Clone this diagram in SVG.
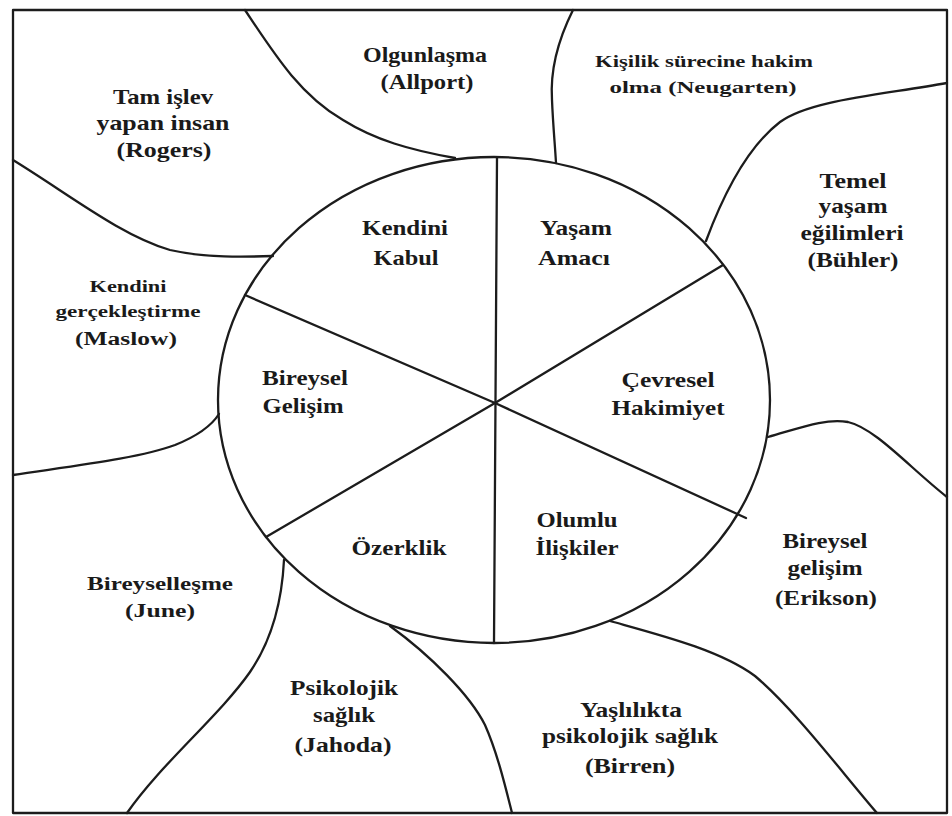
<svg xmlns="http://www.w3.org/2000/svg" width="952" height="816" viewBox="0 0 952 816">
<style>
.ln{fill:none;stroke:#1c1c1c;stroke-width:2.3;stroke-linecap:round;stroke-linejoin:round}
text{font-family:"Liberation Serif","Times New Roman",serif;font-weight:bold;fill:#1a1a1a;text-anchor:middle}
.m{font-size:21px}
.s{font-size:16px}
.s2{font-size:18px}
</style>
<rect width="952" height="816" fill="#ffffff"/>
<g id="frame"><rect class="ln" x="13" y="10" width="934" height="803"/></g>
<g id="connectors">
<ellipse class="ln" cx="494" cy="400" rx="276" ry="243"/>
<path class="ln" d="M497,158 L494,643"/>
<path class="ln" d="M495,403 L723,265"/>
<path class="ln" d="M495,403 L266,537"/>
<path class="ln" d="M495,403 L245,295"/>
<path class="ln" d="M495,403 L746,518"/>
<path class="ln" d="M245,10 C275,55 300,95 343,120 C375,140 410,150 455,158"/>
<path class="ln" d="M13,160 C70,195 120,235 170,250 C205,258 245,257 273,256"/>
<path class="ln" d="M13,475 C80,465 140,458 175,445 C200,435 212,425 219,414"/>
<path class="ln" d="M573,10 C558,40 550,70 552,100 C553,125 555,145 556,163"/>
<path class="ln" d="M947,83 C880,95 810,100 780,122 C750,145 725,190 706,241"/>
<path class="ln" d="M768,437 C800,428 825,418 848,422 C875,428 910,468 947,497"/>
<path class="ln" d="M610,621 C660,635 720,650 755,676 C795,710 840,770 877,813"/>
<path class="ln" d="M390,626 C430,655 470,695 485,725 C497,752 505,785 512,813"/>
<path class="ln" d="M284,560 C282,600 272,640 250,672 C220,715 160,765 127,813"/>
</g>
<g id="n-kendini-kabul"><text class="m" x="405" y="235" textLength="86" lengthAdjust="spacingAndGlyphs">Kendini</text><text class="m" x="406" y="265" textLength="65" lengthAdjust="spacingAndGlyphs">Kabul</text></g>
<g id="n-yasam-amaci"><text class="m" x="576" y="235" textLength="72" lengthAdjust="spacingAndGlyphs">Yaşam</text><text class="m" x="574" y="265" textLength="72" lengthAdjust="spacingAndGlyphs">Amacı</text></g>
<g id="n-bireysel-gelisim"><text class="m" x="305" y="385" textLength="86" lengthAdjust="spacingAndGlyphs">Bireysel</text><text class="m" x="303" y="413" textLength="81" lengthAdjust="spacingAndGlyphs">Gelişim</text></g>
<g id="n-cevresel"><text class="m" x="668" y="387" textLength="93" lengthAdjust="spacingAndGlyphs">Çevresel</text><text class="m" x="668" y="415" textLength="113" lengthAdjust="spacingAndGlyphs">Hakimiyet</text></g>
<g id="n-olumlu"><text class="m" x="577" y="527" textLength="81" lengthAdjust="spacingAndGlyphs">Olumlu</text><text class="m" x="577" y="555" textLength="83" lengthAdjust="spacingAndGlyphs">İlişkiler</text></g>
<g id="n-ozerklik"><text class="m" x="399" y="555" textLength="95" lengthAdjust="spacingAndGlyphs">Özerklik</text></g>
<g id="n-allport"><text class="m" x="425" y="62" textLength="124" lengthAdjust="spacingAndGlyphs">Olgunlaşma</text><text class="m" x="427" y="89" textLength="93" lengthAdjust="spacingAndGlyphs">(Allport)</text></g>
<g id="n-neugarten"><text class="s" x="704" y="67" textLength="218" lengthAdjust="spacingAndGlyphs">Kişilik sürecine hakim</text><text class="s" x="703" y="93" textLength="187" lengthAdjust="spacingAndGlyphs">olma (Neugarten)</text></g>
<g id="n-rogers"><text class="m" x="163" y="104" textLength="100" lengthAdjust="spacingAndGlyphs">Tam işlev</text><text class="m" x="163" y="130" textLength="133" lengthAdjust="spacingAndGlyphs">yapan insan</text><text class="m" x="164" y="157" textLength="95" lengthAdjust="spacingAndGlyphs">(Rogers)</text></g>
<g id="n-buhler"><text class="m" x="853" y="188" textLength="67" lengthAdjust="spacingAndGlyphs">Temel</text><text class="m" x="853" y="213" textLength="69" lengthAdjust="spacingAndGlyphs">yaşam</text><text class="m" x="852" y="240" textLength="103" lengthAdjust="spacingAndGlyphs">eğilimleri</text><text class="m" x="853" y="267" textLength="91" lengthAdjust="spacingAndGlyphs">(Bühler)</text></g>
<g id="n-maslow"><text class="s" x="128" y="292" textLength="77" lengthAdjust="spacingAndGlyphs">Kendini</text><text class="s" x="128" y="317" textLength="145" lengthAdjust="spacingAndGlyphs">gerçekleştirme</text><text class="s2" x="126" y="345" textLength="102" lengthAdjust="spacingAndGlyphs">(Maslow)</text></g>
<g id="n-june"><text class="s2" x="160" y="590" textLength="146" lengthAdjust="spacingAndGlyphs">Bireyselleşme</text><text class="s2" x="160" y="617" textLength="70" lengthAdjust="spacingAndGlyphs">(June)</text></g>
<g id="n-jahoda"><text class="m" x="344" y="695" textLength="108" lengthAdjust="spacingAndGlyphs">Psikolojik</text><text class="m" x="344" y="722" textLength="62" lengthAdjust="spacingAndGlyphs">sağlık</text><text class="m" x="343" y="752" textLength="97" lengthAdjust="spacingAndGlyphs">(Jahoda)</text></g>
<g id="n-erikson"><text class="m" x="825" y="548" textLength="85" lengthAdjust="spacingAndGlyphs">Bireysel</text><text class="m" x="825" y="575" textLength="75" lengthAdjust="spacingAndGlyphs">gelişim</text><text class="m" x="826" y="605" textLength="102" lengthAdjust="spacingAndGlyphs">(Erikson)</text></g>
<g id="n-birren"><text class="m" x="631" y="717" textLength="102" lengthAdjust="spacingAndGlyphs">Yaşlılıkta</text><text class="m" x="630" y="743" textLength="176" lengthAdjust="spacingAndGlyphs">psikolojik sağlık</text><text class="m" x="630" y="773" textLength="90" lengthAdjust="spacingAndGlyphs">(Birren)</text></g>
</svg>
